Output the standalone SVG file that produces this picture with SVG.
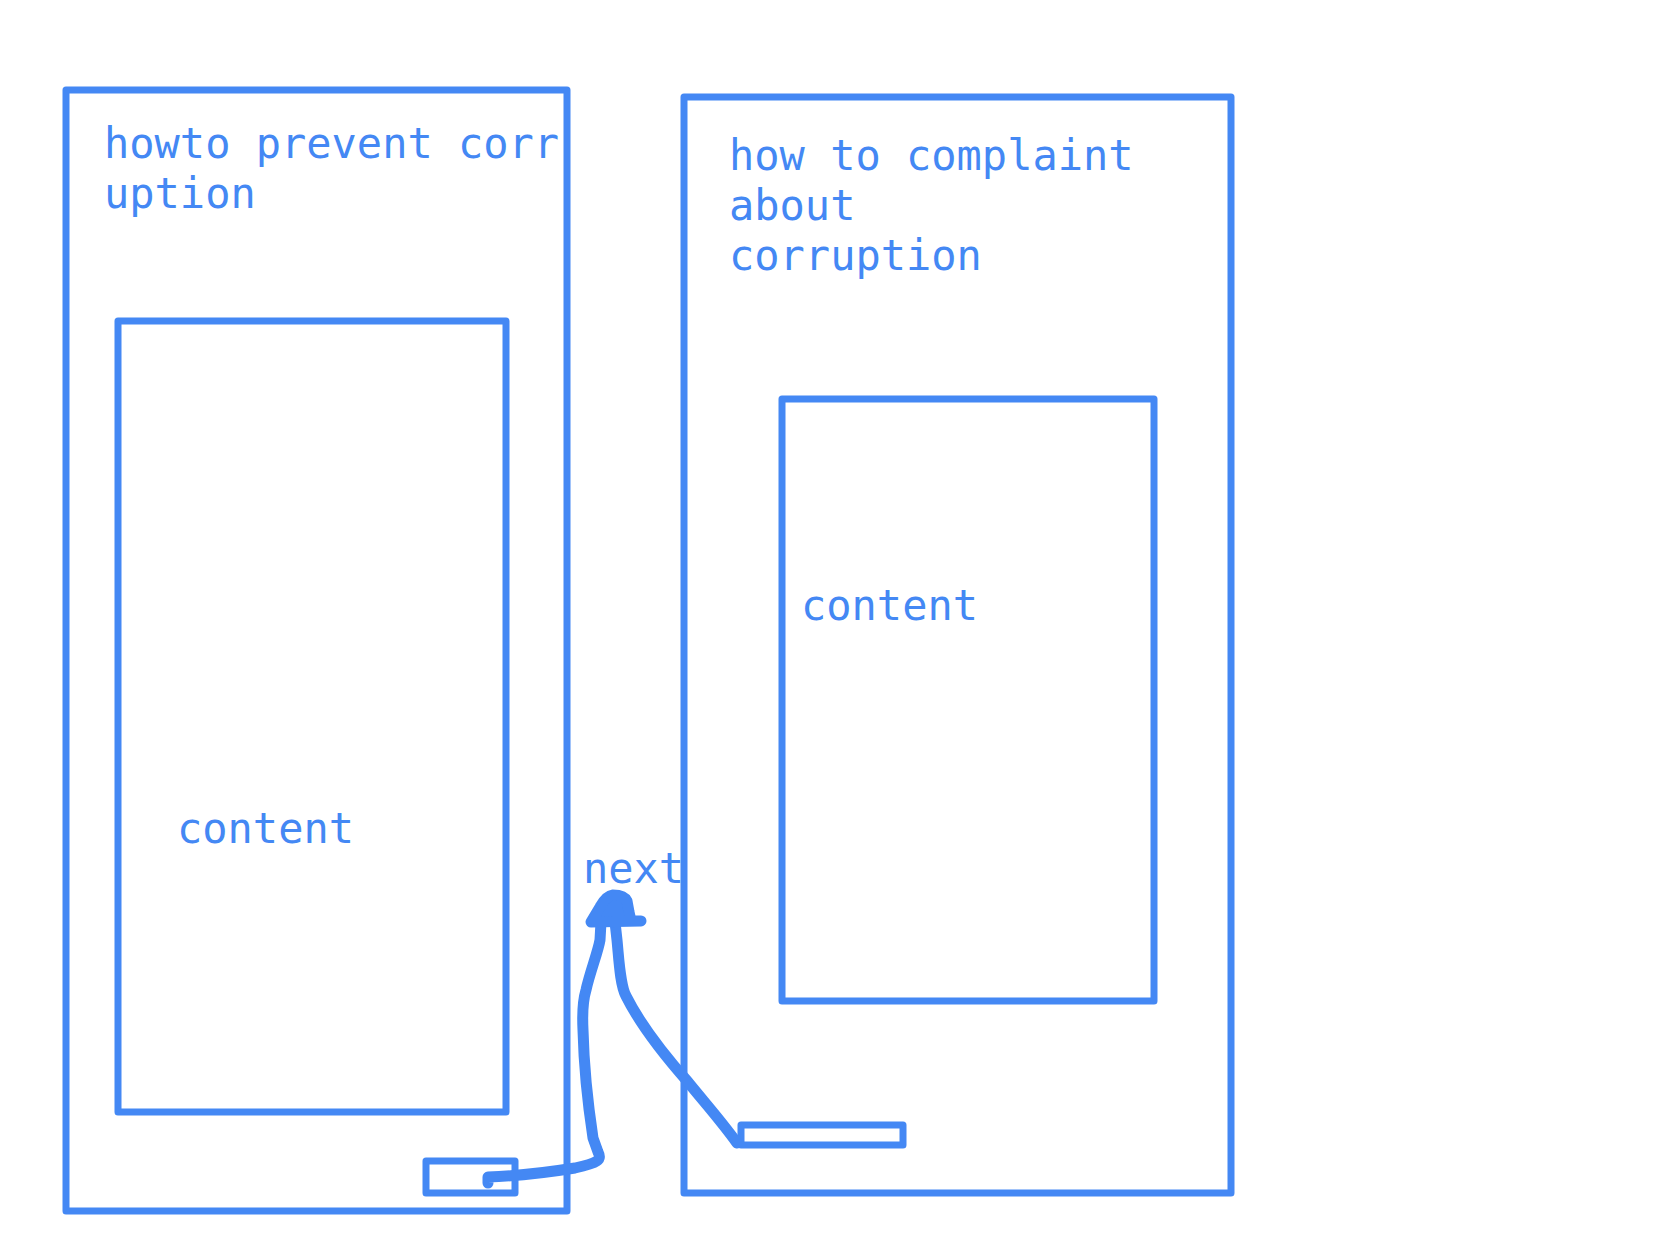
<svg xmlns="http://www.w3.org/2000/svg" width="1656" height="1242" viewBox="0 0 1656 1242">
  <style>
    .box { fill: none; stroke: #4488f4; stroke-width: 7; stroke-linejoin: round; }
    .label { fill: #4488f4; font-family: "DejaVu Sans Mono", "Liberation Mono", monospace; font-size: 42px; }
    .ink { fill: none; stroke: #4488f4; stroke-width: 11; stroke-linecap: round; stroke-linejoin: round; }
  </style>
  <rect width="1656" height="1242" fill="#ffffff"/>

  <!-- page 1: prevention -->
  <g id="page-prevent">
    <rect class="box" x="66" y="90" width="501" height="1121"/>
    <text class="label" x="104" y="158">howto prevent corr</text>
    <text class="label" x="104" y="208">uption</text>
  </g>
  <g id="content-prevent">
    <rect class="box" x="118" y="321" width="388" height="791"/>
    <text class="label" x="177" y="843">content</text>
  </g>
  <g id="button-prevent">
    <rect class="box" x="426" y="1161" width="89" height="32"/>
  </g>

  <!-- page 2: complaint -->
  <g id="page-complaint">
    <rect class="box" x="684" y="97" width="547" height="1096"/>
    <text class="label" x="729" y="170">how to complaint</text>
    <text class="label" x="729" y="220">about</text>
    <text class="label" x="729" y="270">corruption</text>
  </g>
  <g id="content-complaint">
    <rect class="box" x="782" y="399" width="372" height="602"/>
    <text class="label" x="801" y="620">content</text>
  </g>
  <g id="button-complaint">
    <rect class="box" x="741" y="1125" width="162" height="20"/>
  </g>

  <!-- hand-drawn "next" flow -->
  <g id="connectors">
    <path class="ink" d="M488,1183 L488,1177 C520,1176 550,1172 575,1168 C598,1163 602,1160 598,1152 L593,1138 C588,1105 584,1070 583,1030 C582,1010 583,1000 586,990 C590,972 598,952 600,940 L601,922"/>
    <path class="ink" d="M737,1143 C722,1122 705,1103 688,1082 C665,1056 640,1024 626,996 C620,985 619,960 617,940 L615,922"/>
    <path class="ink" style="fill:#4488f4" d="M591,922 L600,907 Q606,896 613,895 Q624,895 627,901 L629,912 L631,921 L641,921 Z"/>
    <text class="label" x="583" y="883">next</text>
  </g>
</svg>
